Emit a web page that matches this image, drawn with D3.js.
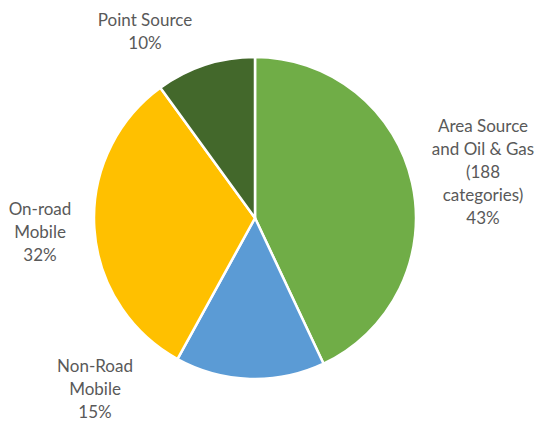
<!DOCTYPE html>
<html>
<head>
<meta charset="utf-8">
<script src="https://cdn.jsdelivr.net/npm/d3@7"></script>
<style>
  html, body { margin: 0; padding: 0; background: #fff; }
  svg { display: block; }
</style>
</head>
<body>
<svg id="chart" width="543" height="422"></svg>
<script>
// Emission source shares
const categories = ["Area Source and Oil & Gas (188 categories)", "Non-Road Mobile", "On-road Mobile", "Point Source"];
const shares = [43, 15, 32, 10];
const colors = ["#70AD47", "#5B9BD5", "#FFC000", "#43682B"];
// Label lines as drawn beside each slice
const labelLines = [
  ["Area Source", "and Oil & Gas", "(188", "categories)", "43%"],
  ["Non-Road", "Mobile", "15%"],
  ["On-road", "Mobile", "32%"],
  ["Point Source", "10%"]
];
// Label anchor (centre of the first line) per slice
const labelAnchors = [[483, 125], [95, 365], [40, 208], [145, 19]];

const svg = d3.select("#chart");
const cx = 255, cy = 218, r = 161;

const pie = d3.pie().sort(null).value(d => d);
const arc = d3.arc().innerRadius(0).outerRadius(r);
const arcs = pie(shares);

const g = svg.append("g").attr("transform", `translate(${cx},${cy})`);
g.selectAll("path")
  .data(arcs)
  .join("path")
  .attr("d", arc)
  .attr("fill", (d, i) => colors[i])
  .attr("stroke", "#fff")
  .attr("stroke-width", 2.5)
  .attr("stroke-linejoin", "round");

const lineH = 23;
const labels = svg.append("g")
  .attr("font-family", "Lato, 'Open Sans', sans-serif")
  .attr("font-size", 17)
  .attr("fill", "#595959")
  .attr("text-anchor", "middle");

labels.selectAll("text")
  .data(labelLines)
  .join("text")
  .attr("x", (d, i) => labelAnchors[i][0])
  .attr("y", (d, i) => labelAnchors[i][1])
  .attr("dominant-baseline", "central")
  .selectAll("tspan")
  .data(d => d)
  .join("tspan")
  .attr("x", function () { return d3.select(this.parentNode).attr("x"); })
  .attr("dy", (d, j) => j === 0 ? 0 : lineH)
  .text(d => d);
</script>
</body>
</html>
